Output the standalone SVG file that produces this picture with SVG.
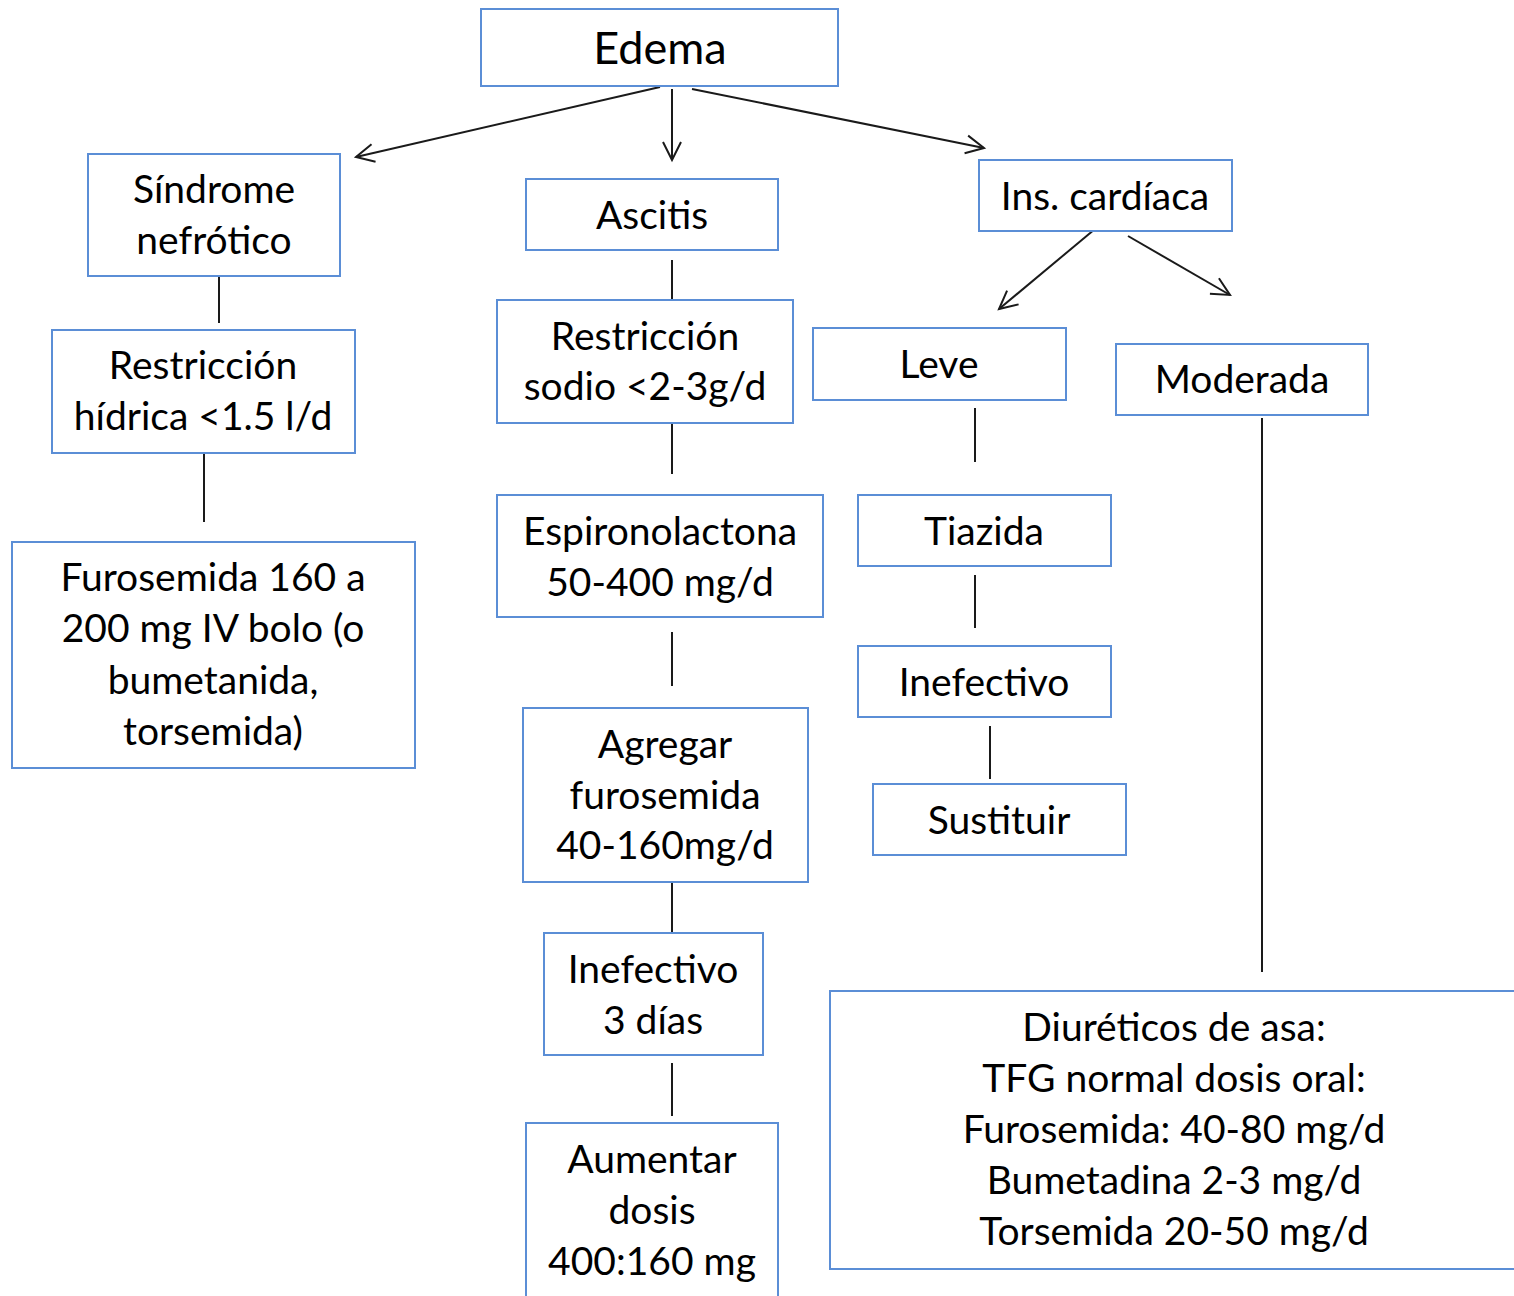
<svg xmlns="http://www.w3.org/2000/svg" width="1514" height="1296" viewBox="0 0 1514 1296">
  <style>
    .box { fill: #ffffff; stroke: #5b8ed6; stroke-width: 2; }
    .lbl { font-family: Lato, "Open Sans", "Liberation Sans", sans-serif; font-size: 39px; fill: #000000; text-anchor: middle; }
    .big { font-size: 45px; }
    .edge { stroke: #1a1a1a; stroke-width: 2; fill: none; }
    .arr { marker-end: url(#open); }
  </style>
  <defs>
    <marker id="open" markerUnits="userSpaceOnUse" markerWidth="24" markerHeight="24" refX="20" refY="10" orient="auto" viewBox="0 0 24 20">
      <path d="M2,1 L20,10 L2,19" fill="none" stroke="#1a1a1a" stroke-width="2"/>
    </marker>
  </defs>
  <rect width="1514" height="1296" fill="#ffffff"/>

  <g id="connectors">
    <line class="edge arr" x1="660" y1="87" x2="356" y2="157"/>
    <line class="edge arr" x1="672" y1="89" x2="672" y2="160"/>
    <line class="edge arr" x1="692" y1="89" x2="984" y2="148"/>
    <line class="edge" x1="219" y1="276" x2="219" y2="323"/>
    <line class="edge" x1="204" y1="453" x2="204" y2="522"/>
    <line class="edge" x1="672" y1="260" x2="672" y2="299"/>
    <line class="edge" x1="672" y1="423" x2="672" y2="474"/>
    <line class="edge" x1="672" y1="632" x2="672" y2="686"/>
    <line class="edge" x1="672" y1="882" x2="672" y2="933"/>
    <line class="edge" x1="672" y1="1063" x2="672" y2="1116"/>
    <line class="edge arr" x1="1095" y1="229" x2="999" y2="309"/>
    <line class="edge arr" x1="1128" y1="236" x2="1230" y2="295"/>
    <line class="edge" x1="975" y1="408" x2="975" y2="462"/>
    <line class="edge" x1="975" y1="575" x2="975" y2="628"/>
    <line class="edge" x1="990" y1="726" x2="990" y2="779"/>
    <line class="edge" x1="1262" y1="418" x2="1262" y2="972"/>
  </g>

  <g id="edema">
    <rect class="box" x="481" y="9" width="357" height="77"/>
    <text class="lbl big" x="660" y="64">Edema</text>
  </g>
  <g id="sindrome">
    <rect class="box" x="88" y="154" width="252" height="122"/>
    <text class="lbl" x="214" y="203">Síndrome</text>
    <text class="lbl" x="214" y="254">nefrótico</text>
  </g>
  <g id="ascitis">
    <rect class="box" x="526" y="179" width="252" height="71"/>
    <text class="lbl" x="652" y="229">Ascitis</text>
  </g>
  <g id="ins-cardiaca">
    <rect class="box" x="979" y="160" width="253" height="71"/>
    <text class="lbl" x="1105" y="210">Ins. cardíaca</text>
  </g>
  <g id="restriccion-hidrica">
    <rect class="box" x="52" y="330" width="303" height="123"/>
    <text class="lbl" x="203" y="379">Restricción</text>
    <text class="lbl" x="203" y="430">hídrica &lt;1.5 l/d</text>
  </g>
  <g id="restriccion-sodio">
    <rect class="box" x="497" y="300" width="296" height="123"/>
    <text class="lbl" x="645" y="350">Restricción</text>
    <text class="lbl" x="645" y="400">sodio &lt;2-3g/d</text>
  </g>
  <g id="leve">
    <rect class="box" x="813" y="328" width="253" height="72"/>
    <text class="lbl" x="939" y="378">Leve</text>
  </g>
  <g id="moderada">
    <rect class="box" x="1116" y="344" width="252" height="71"/>
    <text class="lbl" x="1242" y="393">Moderada</text>
  </g>
  <g id="furosemida-iv">
    <rect class="box" x="12" y="542" width="403" height="226"/>
    <text class="lbl" x="213" y="591">Furosemida 160 a</text>
    <text class="lbl" x="213" y="642">200 mg IV bolo (o</text>
    <text class="lbl" x="213" y="694">bumetanida,</text>
    <text class="lbl" x="213" y="745">torsemida)</text>
  </g>
  <g id="espironolactona">
    <rect class="box" x="497" y="495" width="326" height="122"/>
    <text class="lbl" x="660" y="545">Espironolactona</text>
    <text class="lbl" x="660" y="596">50-400 mg/d</text>
  </g>
  <g id="tiazida">
    <rect class="box" x="858" y="495" width="253" height="71"/>
    <text class="lbl" x="984" y="545">Tiazida</text>
  </g>
  <g id="inefectivo-ic">
    <rect class="box" x="858" y="646" width="253" height="71"/>
    <text class="lbl" x="984" y="696">Inefectivo</text>
  </g>
  <g id="sustituir">
    <rect class="box" x="873" y="784" width="253" height="71"/>
    <text class="lbl" x="999" y="834">Sustituir</text>
  </g>
  <g id="agregar-furosemida">
    <rect class="box" x="523" y="708" width="285" height="174"/>
    <text class="lbl" x="665" y="758">Agregar</text>
    <text class="lbl" x="665" y="809">furosemida</text>
    <text class="lbl" x="665" y="859">40-160mg/d</text>
  </g>
  <g id="inefectivo-3-dias">
    <rect class="box" x="544" y="933" width="219" height="122"/>
    <text class="lbl" x="653" y="983">Inefectivo</text>
    <text class="lbl" x="653" y="1034">3 días</text>
  </g>
  <g id="aumentar-dosis">
    <rect class="box" x="526" y="1123" width="252" height="190"/>
    <text class="lbl" x="652" y="1173">Aumentar</text>
    <text class="lbl" x="652" y="1224">dosis</text>
    <text class="lbl" x="652" y="1275">400:160 mg</text>
  </g>
  <g id="diureticos-asa">
    <rect class="box" x="830" y="991" width="700" height="278"/>
    <text class="lbl" x="1174" y="1041">Diuréticos de asa:</text>
    <text class="lbl" x="1174" y="1092">TFG normal dosis oral:</text>
    <text class="lbl" x="1174" y="1143">Furosemida: 40-80 mg/d</text>
    <text class="lbl" x="1174" y="1194">Bumetadina 2-3 mg/d</text>
    <text class="lbl" x="1174" y="1245">Torsemida 20-50 mg/d</text>
  </g>
</svg>
